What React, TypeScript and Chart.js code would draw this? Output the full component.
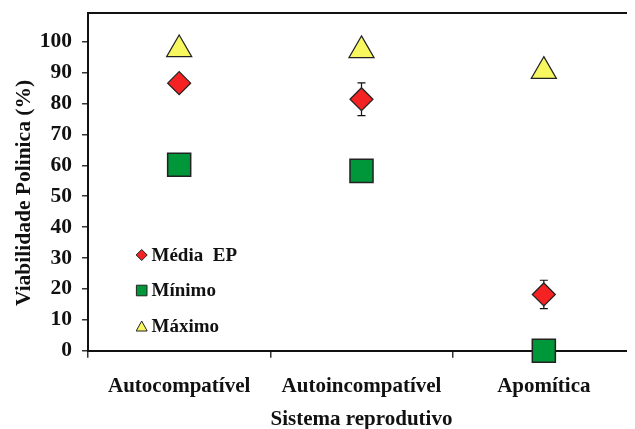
import React, { useEffect, useRef } from "react";
import { Chart, registerables } from "chart.js";

Chart.register(...registerables);

const categories = ["Autocompatível", "Autoincompatível", "Apomítica"];
const mediaValues = [86.6, 81.4, 18.2];
const mediaErrors = [2, 5.3, 4.6];
const minimoValues = [60.2, 58.2, 0];
const maximoValues = [97.5, 97.2, 90.5];
const yTickValues = [0, 10, 20, 30, 40, 50, 60, 70, 80, 90, 100];
const legendLabels = ["Média  EP", "Mínimo", "Máximo"];
const xTitle = "Sistema reprodutivo";
const yTitle = "Viabilidade Polinica (%)";

const FONT = "'Liberation Serif', 'Times New Roman', serif";
const RED = "#f42222";
const GREEN = "#00963a";
const YELLOW = "#f7f760";
const EDGE = "#222222";

const extrasPlugin = {
  id: "extras",
  beforeDatasetsDraw(chart: any) {
    const { ctx } = chart;
    const meta = chart.getDatasetMeta(0);
    const y = chart.scales.y;
    ctx.save();
    ctx.strokeStyle = "#111";
    ctx.lineWidth = 1.2;
    meta.data.forEach((pt: any, i: number) => {
      const v = mediaValues[i];
      const e = mediaErrors[i];
      const yt = y.getPixelForValue(v + e);
      const yb = y.getPixelForValue(v - e);
      ctx.beginPath();
      ctx.moveTo(pt.x, yt);
      ctx.lineTo(pt.x, yb);
      ctx.moveTo(pt.x - 4, yt);
      ctx.lineTo(pt.x + 4, yt);
      ctx.moveTo(pt.x - 4, yb);
      ctx.lineTo(pt.x + 4, yb);
      ctx.stroke();
    });
    ctx.restore();
  },
  afterDraw(chart: any) {
    const { ctx, chartArea } = chart;
    ctx.save();
    // top frame line
    ctx.strokeStyle = "#111";
    ctx.lineWidth = 2;
    ctx.beginPath();
    ctx.moveTo(chartArea.left, chartArea.top);
    ctx.lineTo(chartArea.right, chartArea.top);
    ctx.stroke();

    // axis titles
    ctx.fillStyle = "#111";
    ctx.textAlign = "center";
    ctx.textBaseline = "middle";
    ctx.font = `bold 21px ${FONT}`;
    ctx.fillText(xTitle, (chartArea.left + chartArea.right) / 2, 411.5);
    ctx.save();
    ctx.translate(16, 185);
    ctx.rotate(-Math.PI / 2);
    ctx.font = `bold 21.5px ${FONT}`;
    ctx.fillText(yTitle, 0, 0);
    ctx.restore();

    // legend
    const lx = 133.7;
    const ys = [247, 282.5, 318.5];
    ctx.lineWidth = 1;
    ctx.strokeStyle = EDGE;
    ctx.fillStyle = RED;
    ctx.beginPath();
    ctx.moveTo(lx, ys[0] - 5.5);
    ctx.lineTo(lx + 5.5, ys[0]);
    ctx.lineTo(lx, ys[0] + 5.5);
    ctx.lineTo(lx - 5.5, ys[0]);
    ctx.closePath();
    ctx.fill();
    ctx.stroke();
    ctx.fillStyle = GREEN;
    ctx.beginPath();
    ctx.rect(lx - 5.3, ys[1] - 5.3, 10.6, 10.6);
    ctx.fill();
    ctx.stroke();
    ctx.fillStyle = YELLOW;
    ctx.beginPath();
    ctx.moveTo(lx, ys[2] - 5.5);
    ctx.lineTo(lx + 5.5, ys[2] + 4.5);
    ctx.lineTo(lx - 5.5, ys[2] + 4.5);
    ctx.closePath();
    ctx.fill();
    ctx.stroke();

    ctx.fillStyle = "#111";
    ctx.font = `bold 19px ${FONT}`;
    ctx.textBaseline = "middle";
    ctx.textAlign = "left";
    legendLabels.forEach((t, i) => {
      ctx.fillText(t, 143.5, ys[i] + 1);
    });
    ctx.restore();
  },
};

export default function App() {
  const ref = useRef<HTMLCanvasElement>(null);
  useEffect(() => {
    if (!ref.current) return;
    const chart = new Chart(ref.current, {
      type: "line",
      data: {
        labels: categories,
        datasets: [
          {
            label: legendLabels[0],
            data: mediaValues,
            showLine: false,
            pointStyle: "rectRot",
            pointRadius: 11.5,
            pointHoverRadius: 11.5,
            backgroundColor: RED,
            borderColor: EDGE,
            borderWidth: 1.2,
            clip: false,
          },
          {
            label: legendLabels[1],
            data: minimoValues,
            showLine: false,
            pointStyle: "rect",
            pointRadius: 16.3,
            pointHoverRadius: 16.3,
            backgroundColor: GREEN,
            borderColor: EDGE,
            borderWidth: 1.5,
            clip: false,
          },
          {
            label: legendLabels[2],
            data: maximoValues,
            showLine: false,
            pointStyle: "triangle",
            pointRadius: 14.5,
            pointHoverRadius: 14.5,
            backgroundColor: YELLOW,
            borderColor: EDGE,
            borderWidth: 1.2,
            clip: false,
          },
        ],
      },
      options: {
        responsive: false,
        animation: false,
        events: [],
        layout: { autoPadding: false, padding: { top: 5, right: 0, bottom: 0, left: 0 } },
        plugins: { legend: { display: false }, tooltip: { enabled: false } },
        scales: {
          x: {
            type: "category",
            offset: true,
            grid: {
              display: true,
              offset: true,
              drawOnChartArea: false,
              drawTicks: true,
              tickLength: 7,
              color: "#333",
              lineWidth: 1.5,
            },
            border: { display: true, color: "#111", width: 2 },
            ticks: {
              color: "#111",
              padding: 16,
              maxRotation: 0,
              autoSkip: false,
              font: { family: FONT, size: 21, weight: "bold" },
            },
            title: { display: false },
            afterFit: (s: any) => {
              s.height = 78.3;
              s.paddingLeft = 0;
              s.paddingRight = 0;
              s.paddingTop = 0;
              s.paddingBottom = 0;
            },
          },
          y: {
            type: "linear",
            min: 0,
            max: 109.3,
            grid: {
              display: true,
              drawOnChartArea: false,
              drawTicks: true,
              tickLength: 6,
              color: "#333",
              lineWidth: 1.5,
            },
            border: { display: true, color: "#111", width: 2 },
            afterBuildTicks: (s: any) => {
              s.ticks = yTickValues.map((v) => ({ value: v }));
            },
            ticks: {
              color: "#111",
              padding: 10,
              font: { family: FONT, size: 21.5, weight: "bold" },
            },
            title: { display: false },
            afterFit: (s: any) => {
              s.width = 80;
              s.paddingLeft = 0;
              s.paddingRight = 0;
              s.paddingTop = 0;
              s.paddingBottom = 0;
            },
          },
        },
      },
      plugins: [extrasPlugin],
    } as any);
    return () => chart.destroy();
  }, []);
  return (
    <div style={{ width: 627, height: 421 }}>
      <canvas ref={ref} width={627} height={421} style={{ display: "block" }} />
    </div>
  );
}
